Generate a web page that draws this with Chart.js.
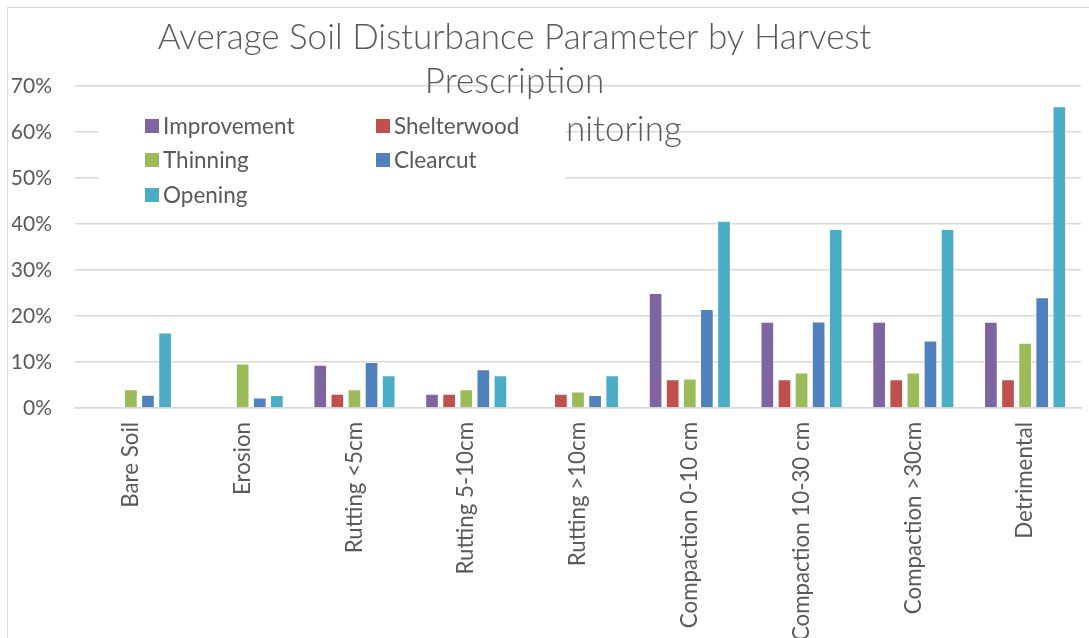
<!DOCTYPE html>
<html>
<head>
<meta charset="utf-8">
<script src="https://cdn.jsdelivr.net/npm/chart.js@4.4.1/dist/chart.umd.min.js"></script>
<style>
  html, body { margin: 0; padding: 0; background: #fff; }
  #wrap { position: relative; width: 1089px; height: 638px; overflow: hidden; }
  #frame { position: absolute; left: 7px; top: 7px; width: 1200px; height: 700px;
           border-left: 1.5px solid #d9d9d9; border-top: 1.5px solid #d9d9d9; }
  canvas { position: absolute; left: 0; top: 0; }
</style>
</head>
<body>
<div id="wrap">
  <div id="frame"></div>
  <canvas id="c" width="1089" height="638"></canvas>
</div>
<script>
// Disturbance parameters (x categories)
const categories = ['Bare Soil', 'Erosion', 'Rutting <5cm', 'Rutting 5-10cm', 'Rutting >10cm',
                    'Compaction 0-10 cm', 'Compaction 10-30 cm', 'Compaction >30cm', 'Detrimental'];

// Average disturbance (%) per harvest prescription
const improvement = [0, 0, 9.4, 3.1, 0, 25.0, 18.75, 18.75, 18.75];
const shelterwood = [0, 0, 3.1, 3.1, 3.1, 6.25, 6.25, 6.25, 6.25];
const thinning    = [4.1, 9.7, 4.1, 4.1, 3.6, 6.4, 7.7, 7.7, 14.2];
const clearcut    = [2.9, 2.3, 10.0, 8.4, 2.8, 21.5, 18.8, 14.7, 24.1];
const opening     = [16.4, 2.8, 7.1, 7.1, 7.1, 40.7, 38.9, 38.9, 65.6];

// Value axis ticks (%)
const yTicks = [0, 10, 20, 30, 40, 50, 60, 70];

const titleLines = ['Average Soil Disturbance Parameter by Harvest', 'Prescription'];
const headingFragment = 'nitoring';

const TEXT = '#595959';
const GRID = '#d9d9d9';

Chart.defaults.font.family = 'Lato';
Chart.defaults.color = TEXT;

// Shifts the title block so it is centred over x = 514
const titleOffset = {
  id: 'titleOffset',
  afterLayout(chart, args, o) {
    const t = chart.titleBlock;
    if (t) { t.left += o.dx; t.right += o.dx; }
  }
};

// Two-column legend on a white panel inside the plot area
const legendPanel = {
  id: 'legendPanel',
  beforeDatasetsDraw(chart, args, o) {
    const ctx = chart.ctx;
    ctx.save();
    ctx.textBaseline = 'middle';
    ctx.textAlign = 'left';
    ctx.font = o.noteFont;
    ctx.fillStyle = TEXT;
    ctx.fillText(o.note, o.noteX, o.noteY);

    ctx.fillStyle = '#ffffff';
    ctx.fillRect(o.box.x, o.box.y, o.box.w, o.box.h);

    ctx.font = o.font;
    chart.data.datasets.forEach((ds, i) => {
      const x = o.colX[i % 2];
      const y = o.rowY[Math.floor(i / 2)];
      ctx.fillStyle = ds.backgroundColor;
      ctx.fillRect(x, y - o.swatch / 2, o.swatch, o.swatch);
      ctx.fillStyle = TEXT;
      ctx.fillText(ds.label, x + o.swatch + o.gap, y + 1);
    });
    ctx.restore();
  }
};

const series = [
  { label: 'Improvement', data: improvement, color: '#8064A2' },
  { label: 'Shelterwood', data: shelterwood, color: '#C0504D' },
  { label: 'Thinning',    data: thinning,    color: '#9BBB59' },
  { label: 'Clearcut',    data: clearcut,    color: '#4F81BD' },
  { label: 'Opening',     data: opening,     color: '#4BACC6' }
];

new Chart(document.getElementById('c'), {
  type: 'bar',
  data: {
    labels: categories,
    datasets: series.map(s => ({
      label: s.label,
      data: s.data,
      backgroundColor: s.color,
      borderColor: 'rgba(255,255,255,0.45)',
      borderWidth: 1,
      borderSkipped: 'start',
      categoryPercentage: 0.765,
      barPercentage: 0.8
    }))
  },
  options: {
    responsive: false,
    animation: false,
    devicePixelRatio: 1,
    layout: { padding: { left: 12, right: 8, top: 0, bottom: 0 } },
    plugins: {
      legend: { display: false },
      tooltip: { enabled: false },
      title: {
        display: true,
        text: titleLines,
        color: TEXT,
        font: { family: 'Lato', weight: 300, size: 35, lineHeight: '44px' },
        padding: { top: 16, bottom: -18 }
      },
      titleOffset: { dx: -32 },
      legendPanel: {
        note: headingFragment,
        noteFont: '300 35px Lato',
        noteX: 566, noteY: 130,
        box: { x: 98, y: 100, w: 468, h: 112 },
        font: '22.5px Lato',
        colX: [145, 376],
        rowY: [126, 160, 195],
        swatch: 14,
        gap: 4
      }
    },
    scales: {
      x: {
        grid: { display: false, drawTicks: false },
        border: { display: true, color: GRID, width: 1.5 },
        ticks: {
          autoSkip: false, maxRotation: 90, minRotation: 90,
          padding: 14, color: TEXT, font: { size: 22.3 }
        },
        afterFit(s) { s.height = 230; }
      },
      y: {
        min: 0, max: 70,
        afterBuildTicks(s) { s.ticks = yTicks.map(v => ({ value: v })); },
        grid: { color: GRID, lineWidth: 1.5, drawTicks: false },
        border: { display: false },
        ticks: { padding: 23, color: TEXT, font: { size: 21 }, callback: v => v + '%' },
        afterFit(s) { s.width = 63; }
      }
    }
  },
  plugins: [titleOffset, legendPanel]
});
</script>
</body>
</html>
